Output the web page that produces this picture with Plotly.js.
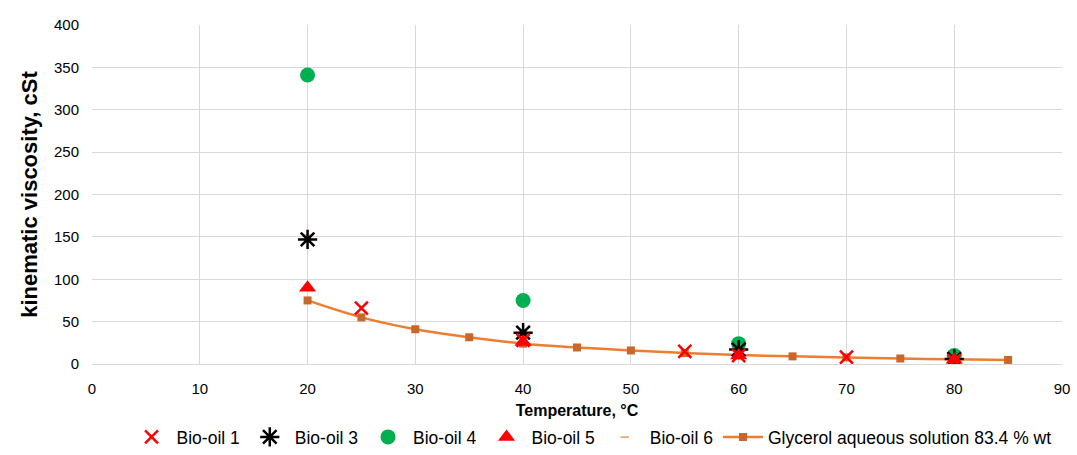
<!DOCTYPE html>
<html><head><meta charset="utf-8">
<script src="https://cdn.plot.ly/plotly-3.0.1.min.js"></script>
<style>html,body{margin:0;padding:0;background:#fff}#c{width:1077px;height:455px}</style>
</head><body><div id="c"></div>
<script>
const bio1X = [25, 40, 55, 60, 70, 80];
const bio1Y = [66, 28, 15, 10, 8, 4];
const bio3X = [20, 40, 60, 80];
const bio3Y = [147, 37, 17, 6];
const bio4X = [20, 40, 60, 80];
const bio4Y = [341, 75, 24, 10];
const bio5X = [20, 40, 60, 80];
const bio5Y = [90, 26, 10, 5];
const bio6X = [20, 40, 60, 80];
const bio6Y = [152, 39, 16, 6];
const glyX = [20, 25, 30, 35, 40, 45, 50, 55, 60, 65, 70, 75, 80, 85];
const glyY = [75, 55, 41, 31.5, 24, 19.5, 16, 13, 10.5, 9, 7.8, 6.5, 5.5, 4.8];

const font = "Liberation Sans, Arial, sans-serif";
const traces = [
  {x: glyX, y: glyY, name: 'Glycerol aqueous solution 83.4 % wt', mode: 'lines+markers',
   line: {color: '#ed7d31', width: 2.5, shape: 'spline'},
   marker: {symbol: 'square', size: 8, color: '#c8672a'}, legendrank: 6},
  {x: bio6X, y: bio6Y, name: 'Bio-oil 6', mode: 'markers',
   marker: {symbol: 'line-ew-open', size: 6, color: '#f4b183', line: {color: '#f4b183', width: 2}}, legendrank: 5},
  {x: bio4X, y: bio4Y, name: 'Bio-oil 4', mode: 'markers',
   marker: {symbol: 'circle', size: 15, color: '#00b050'}, legendrank: 3},
  {x: bio3X, y: bio3Y, name: 'Bio-oil 3', mode: 'markers',
   marker: {symbol: 'asterisk-open', size: 16, color: '#000000', line: {color: '#000000', width: 2.5}}, legendrank: 2},
  {x: bio5X, y: bio5Y, name: 'Bio-oil 5', mode: 'markers',
   marker: {symbol: 'triangle-up', size: 15, color: '#ff0000'}, legendrank: 4},
  {x: bio1X, y: bio1Y, name: 'Bio-oil 1', mode: 'markers',
   marker: {symbol: 'x-thin-open', size: 13, color: '#ff0000', line: {color: '#ff0000', width: 2.5}}, legendrank: 1}
];
const layout = {
  width: 1077, height: 455,
  margin: {l: 92, r: 15, t: 25, b: 91},
  paper_bgcolor: '#fff', plot_bgcolor: '#fff',
  font: {family: font, size: 15, color: '#000'},
  showlegend: true,
  legend: {orientation: 'h', x: 0.515, xanchor: 'center', yref: 'container', y: 0, yanchor: 'bottom',
           font: {size: 17.5}, traceorder: 'normal', itemwidth: 40, tracegroupgap: 0},
  xaxis: {range: [0, 90], dtick: 10, showgrid: true, gridcolor: '#d9d9d9', gridwidth: 1,
          zeroline: false, showline: true, linecolor: '#d9d9d9', automargin: false,
          ticks: 'outside', ticklen: 11, tickcolor: 'rgba(0,0,0,0)',
          tickfont: {size: 15}, title: {text: '<b>Temperature, °C</b>', font: {size: 16}}},
  yaxis: {range: [0, 400], dtick: 50, showgrid: true, gridcolor: '#d9d9d9', gridwidth: 1,
          zeroline: false, showline: false,
          ticks: 'outside', ticklen: 9, tickcolor: 'rgba(0,0,0,0)',
          tickfont: {size: 15}, title: {text: '<b>kinematic viscosity, cSt</b>', font: {size: 22}, standoff: 10}}
};
Plotly.newPlot('c', traces, layout, {displayModeBar: false});
</script></body></html>
